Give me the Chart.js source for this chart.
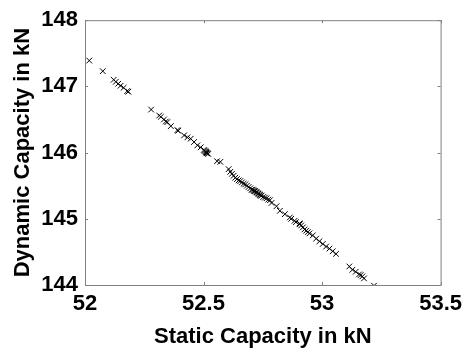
<!DOCTYPE html>
<html>
<head>
<meta charset="utf-8">
<script src="https://cdn.jsdelivr.net/npm/chart.js@4/dist/chart.umd.min.js"></script>
<style>
    body { margin: 0; background: #fff; }
    #wrap { width: 468px; height: 353px; }
</style>
</head>
<body>
<div id="wrap"><canvas id="chart"></canvas></div>
<script>
// static vs dynamic capacity
const static_kn = [
    52.018, 52.075, 52.121, 52.130, 52.140, 52.150, 52.163, 52.178, 52.183,
    52.279, 52.313, 52.320, 52.333, 52.341, 52.347, 52.362, 52.390, 52.393,
    52.418, 52.432, 52.446, 52.460, 52.474, 52.488, 52.501, 52.505, 52.508, 52.510, 52.512, 52.514, 52.516, 52.520, 52.557, 52.571,
    52.606, 52.613, 52.620, 52.627, 52.634, 52.641, 52.648, 52.655, 52.662, 52.669, 52.676, 52.683, 52.690, 52.697, 52.703, 52.707, 52.710, 52.714, 52.717,
    52.721, 52.724, 52.728, 52.731, 52.735, 52.738, 52.742, 52.745, 52.752, 52.759, 52.766, 52.773, 52.780, 52.787,
    52.808, 52.822, 52.843, 52.864, 52.870, 52.884, 52.890, 52.905,
    52.906, 52.912, 52.919, 52.926, 52.933, 52.940, 52.947, 52.961, 52.975, 52.989,
    53.003, 53.017, 53.031, 53.045, 53.059,
    53.115, 53.128, 53.142, 53.156, 53.163, 53.170, 53.177,
    53.219
]
const dynamic_kn = [
    147.39, 147.23, 147.10, 147.07, 147.04, 147.01, 146.98, 146.93, 146.92,
    146.65, 146.56, 146.54, 146.50, 146.47, 146.46, 146.40, 146.34, 146.33,
    146.26, 146.23, 146.21, 146.16, 146.11, 146.08, 146.04, 146.03, 146.02, 146.01, 146.00, 145.99, 145.99, 145.98, 145.87, 145.86,
    145.75, 145.71, 145.68, 145.65, 145.62, 145.60, 145.58, 145.57, 145.55, 145.53, 145.52, 145.50, 145.48, 145.46, 145.44, 145.44, 145.43, 145.42, 145.42,
    145.41, 145.40, 145.39, 145.38, 145.37, 145.36, 145.35, 145.35, 145.33, 145.32, 145.31, 145.29, 145.28, 145.24,
    145.19, 145.12, 145.07, 145.02, 145.00, 144.97, 144.95, 144.93,
    144.92, 144.90, 144.87, 144.84, 144.82, 144.80, 144.78, 144.75, 144.70, 144.66,
    144.62, 144.58, 144.55, 144.51, 144.47,
    144.28, 144.23, 144.20, 144.16, 144.15, 144.13, 144.10,
    143.99
]
const x_ticks = [52, 52.5, 53, 53.5]
const x_labels = ["52", "52.5", "53", "53.5"]
const y_ticks = [144, 145, 146, 147, 148]
const y_labels = ["144", "145", "146", "147", "148"]

const points = static_kn.map((v, i) => ({ x: v, y: dynamic_kn[i] }))

const font_family = "'Liberation Sans', Arial, sans-serif"
const axis_grey = "#808080"

// box round the plot and the small inward ticks on all four sides
const box_plugin = {
    id: "box",
    afterDraw(chart) {
        const ctx = chart.ctx
        const a = chart.chartArea
        const xs = chart.scales.x
        const ys = chart.scales.y
        ctx.save()
        ctx.strokeStyle = axis_grey
        ctx.lineWidth = 1
        ctx.strokeRect(a.left + 0.5, a.top + 0.5, a.right - a.left, a.bottom - a.top)
        ctx.beginPath()
        x_ticks.forEach(t => {
            const px = Math.round(xs.getPixelForValue(t)) + 0.5
            ctx.moveTo(px, a.bottom); ctx.lineTo(px, a.bottom - 3)
            ctx.moveTo(px, a.top); ctx.lineTo(px, a.top + 3)
        })
        y_ticks.forEach(t => {
            const py = Math.round(ys.getPixelForValue(t)) + 0.5
            ctx.moveTo(a.left, py); ctx.lineTo(a.left + 3, py)
            ctx.moveTo(a.right, py); ctx.lineTo(a.right - 3, py)
        })
        ctx.stroke()
        ctx.restore()
    }
}

new Chart(document.getElementById("chart"), {
    type: "scatter",
    data: {
        datasets: [{
            data: points,
            pointStyle: "crossRot",
            pointRadius: 4,
            pointBorderColor: "#000",
            pointBackgroundColor: "#000",
            pointBorderWidth: 1
        }]
    },
    options: {
        responsive: true,
        maintainAspectRatio: false,
        animation: false,
        layout: { padding: { left: 0, right: 24, top: 17, bottom: 0 } },
        plugins: {
            legend: { display: false },
            tooltip: { enabled: false }
        },
        scales: {
            x: {
                type: "linear",
                min: 52,
                max: 53.5,
                afterBuildTicks: s => { s.ticks = x_ticks.map(v => ({ value: v })) },
                grid: { display: false, drawTicks: false },
                border: { display: false },
                ticks: {
                    padding: 6,
                    color: "#000",
                    callback: (v, i) => x_labels[i],
                    font: { family: font_family, size: 22, weight: "bold" }
                },
                title: {
                    display: true,
                    text: "Static Capacity in kN",
                    color: "#000",
                    padding: { top: 0, bottom: 3 },
                    font: { family: font_family, size: 22, weight: "bold" }
                },
                afterFit: s => { s.height = 68 }
            },
            y: {
                type: "linear",
                min: 144,
                max: 148,
                afterBuildTicks: s => { s.ticks = y_ticks.map(v => ({ value: v })) },
                grid: { display: false, drawTicks: false },
                border: { display: false },
                ticks: {
                    padding: 7,
                    color: "#000",
                    callback: (v, i) => y_labels[i],
                    font: { family: font_family, size: 22, weight: "bold" }
                },
                title: {
                    display: true,
                    text: "Dynamic Capacity in kN",
                    color: "#000",
                    padding: { top: 10, bottom: 0 },
                    font: { family: font_family, size: 22, weight: "bold" }
                },
                afterFit: s => { s.width = 85 }
            }
        }
    },
    plugins: [box_plugin]
})
</script>
</body>
</html>
